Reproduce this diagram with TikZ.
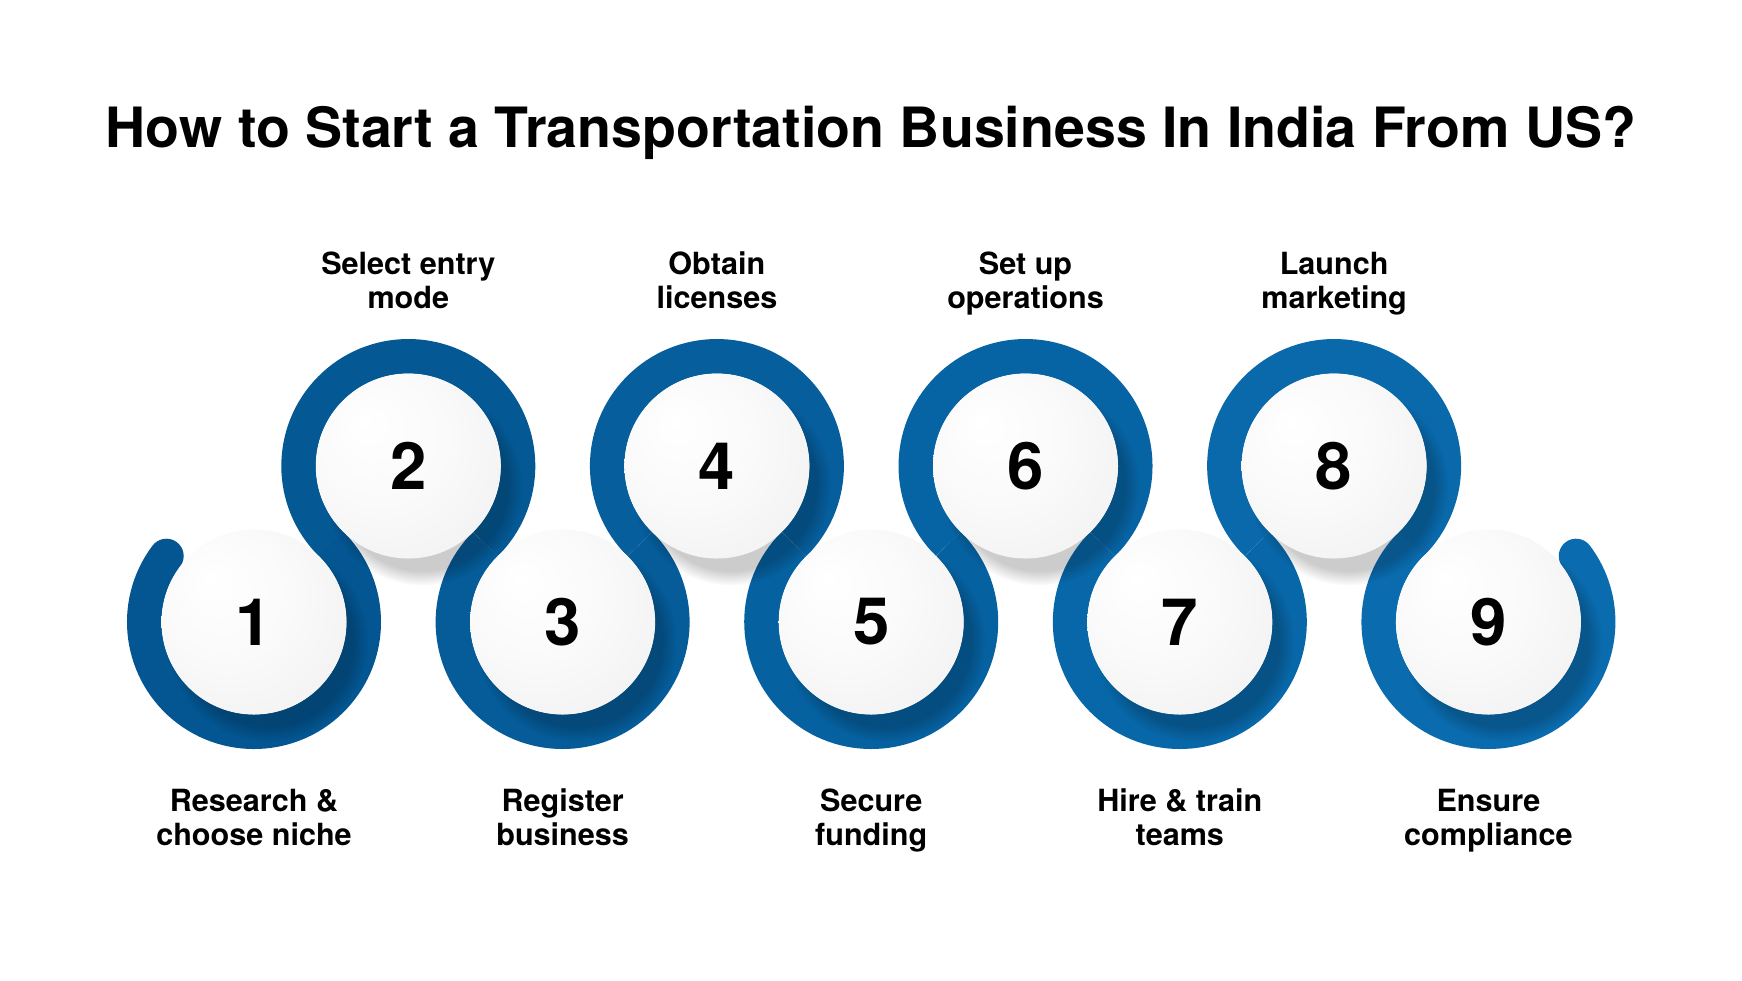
\documentclass[tikz,border=0pt]{standalone}
\usepackage{fontspec}
\setmainfont{TeX Gyre Heros}
\usepackage{tikz}
\usetikzlibrary{shadows,fadings}
\usetikzlibrary{positioning}
\definecolor{bandL}{RGB}{3,86,146}
\definecolor{bandR}{RGB}{10,108,175}
\pgfdeclareradialshading{pearl}{\pgfpoint{-12bp}{12bp}}{%
  color(0bp)=(white); color(18bp)=(black!2); color(40bp)=(black!6); color(50bp)=(black!17)}
\tikzset{
    ball/.style={
           circle,
           minimum size=1.85cm,
           inner sep=0pt,
           shade, shading=pearl,
           font=\fontsize{18.6}{20}\selectfont\bfseries,
           circular drop shadow={shadow xshift=0.13cm, shadow yshift=-0.18cm,
                                 fill=black, opacity=0.2, shadow scale=1.08},
           },
    band/.style={
           line width=0.346cm,
           },
    steptext/.style={
           align=center,
           font=\fontsize{8.7}{9.6}\selectfont\bfseries,
           },
}

\begin{document}
\begin{tikzpicture}
% CANVAS
\useasboundingbox[fill=white] (0,0) rectangle (17.42,9.80);
% TITLE
\node[font=\fontsize{15.8}{18}\selectfont\bfseries] (TITLE) at (8.71,8.47)
{How to Start a Transportation Business In India From US?};
% Position of the step centres (odd below, even above)
\coordinate (S1) at (2.540,3.580);
\coordinate (S2) at (4.083,5.140);
\coordinate (S3) at (5.626,3.580);
\coordinate (S4) at (7.169,5.140);
\coordinate (S5) at (8.712,3.580);
\coordinate (S6) at (10.255,5.140);
\coordinate (S7) at (11.798,3.580);
\coordinate (S8) at (13.341,5.140);
\coordinate (S9) at (14.884,3.580);
% Draw the winding band
\draw[band, bandL, line cap=round] ([shift={(143:1.097)}]S1) arc[start angle=143, end angle=405.31, radius=1.097];
\draw[band, bandR!12!bandL] ([shift={(225.31:1.097)}]S2) arc[start angle=225.31, end angle=-45.31, radius=1.097];
\draw[band, bandR!25!bandL] ([shift={(134.69:1.097)}]S3) arc[start angle=134.69, end angle=405.31, radius=1.097];
\draw[band, bandR!37!bandL] ([shift={(225.31:1.097)}]S4) arc[start angle=225.31, end angle=-45.31, radius=1.097];
\draw[band, bandR!50!bandL] ([shift={(134.69:1.097)}]S5) arc[start angle=134.69, end angle=405.31, radius=1.097];
\draw[band, bandR!62!bandL] ([shift={(225.31:1.097)}]S6) arc[start angle=225.31, end angle=-45.31, radius=1.097];
\draw[band, bandR!75!bandL] ([shift={(134.69:1.097)}]S7) arc[start angle=134.69, end angle=405.31, radius=1.097];
\draw[band, bandR, line cap=round] ([shift={(134.69:1.097)}]S9) arc[start angle=134.69, end angle=397, radius=1.097];
\draw[band, bandR!87!bandL] ([shift={(225.31:1.097)}]S8) arc[start angle=225.31, end angle=-45.31, radius=1.097];
% Draw the numbered balls
\node[ball] (B1) at (S1) {1};
\node[ball] (B2) at (S2) {2};
\node[ball] (B3) at (S3) {3};
\node[ball] (B4) at (S4) {4};
\node[ball] (B5) at (S5) {5};
\node[ball] (B6) at (S6) {6};
\node[ball] (B7) at (S7) {7};
\node[ball] (B8) at (S8) {8};
\node[ball] (B9) at (S9) {9};
% Step texts
\node[steptext, below of = B1, node distance = 2.00cm] (T1) {\strut Research \&\\choose niche\strut};
\node[steptext, above of = B2, node distance = 1.81cm] (T2) {\strut Select entry\\mode\strut};
\node[steptext, below of = B3, node distance = 2.00cm] (T3) {\strut Register\\business\strut};
\node[steptext, above of = B4, node distance = 1.81cm] (T4) {\strut Obtain\\licenses\strut};
\node[steptext, below of = B5, node distance = 2.00cm] (T5) {\strut Secure\\funding\strut};
\node[steptext, above of = B6, node distance = 1.81cm] (T6) {\strut Set up\\operations\strut};
\node[steptext, below of = B7, node distance = 2.00cm] (T7) {\strut Hire \& train\\teams\strut};
\node[steptext, above of = B8, node distance = 1.81cm] (T8) {\strut Launch\\marketing\strut};
\node[steptext, below of = B9, node distance = 2.00cm] (T9) {\strut Ensure\\compliance\strut};
\end{tikzpicture}
\end{document}
